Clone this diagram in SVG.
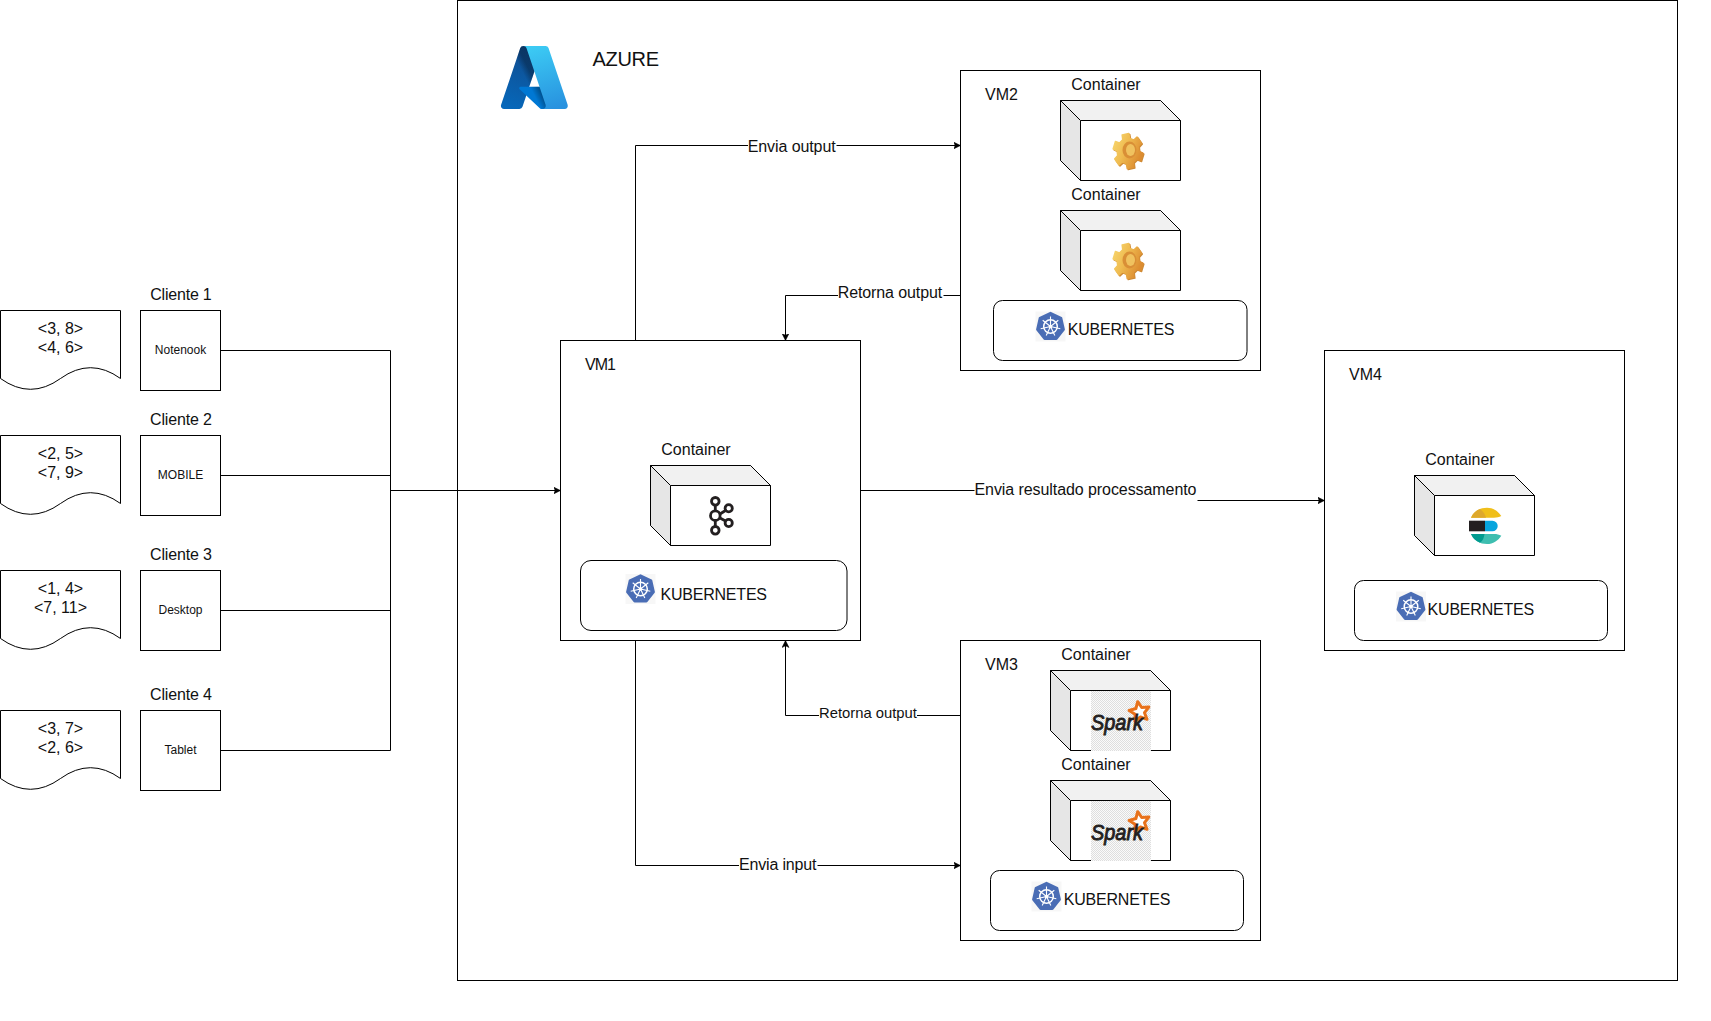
<svg xmlns="http://www.w3.org/2000/svg" xmlns:xlink="http://www.w3.org/1999/xlink" width="1711" height="1021" viewBox="0 0 1711 1021">
<style>
text{font-family:"Liberation Sans",Arial,sans-serif;font-size:16px;fill:#111}
.m{text-anchor:middle}
.s{font-size:12px}
.box{fill:#fff;stroke:#000;stroke-width:1}
.rr{fill:#fff;stroke:#000;stroke-width:1}
.line{fill:none;stroke:#000;stroke-width:1}
.arr{marker-end:url(#arrow)}
.bg{fill:#fff;stroke:none}
</style>
<defs>
<marker id="arrow" markerUnits="userSpaceOnUse" markerWidth="10" markerHeight="10" refX="7" refY="4" orient="auto">
<path d="M0,0.5 L7,4 L0,7.5 L1.75,4Z" fill="#000" stroke="#000" stroke-width="0.5"/>
</marker>
<g id="cube">
<path d="M0,0H100L120,20V80H20L0,60Z" fill="#fff" stroke="#000"/>
<path d="M0,0H100L120,20H20Z" fill="#f1f1f1" stroke="#000"/>
<path d="M0,0L20,20V80L0,60Z" fill="#e6e6e6" stroke="#000"/>
</g>
<g id="k8s">
<rect x="-15" y="-15" width="30" height="30" fill="#f7f7f7"/>
<polygon points="0,-13.5 10.6,-8.4 13.2,3 5.9,12.2 -5.9,12.2 -13.2,3 -10.6,-8.4" fill="#4a6db5" stroke="#4a6db5" stroke-width="2.4" stroke-linejoin="round"/>
<circle r="6.8" fill="none" stroke="#fff" stroke-width="1.5"/>
<path d="M0,0L0,-10M0,0L7.8,-6.2M0,0L9.8,2.2M0,0L4.3,9M0,0L-4.3,9M0,0L-9.8,2.2M0,0L-7.8,-6.2" stroke="#fff" stroke-width="1.1" fill="none"/>
<circle r="1.8" fill="#fff"/>
</g>
<linearGradient id="gearG" x1="0" y1="0" x2="1" y2="0.5">
<stop offset="0" stop-color="#f8d970"/><stop offset="0.5" stop-color="#efbb50"/><stop offset="1" stop-color="#dc8c30"/>
</linearGradient>
<path id="gearP" d="M14.9,2.1L12.6,9.5L8.6,8.1L5.3,11.3L5.9,16.1L-.8,17.5L-1.7,12.7L-5.7,11L-9,14L-13.4,7.9L-10.3,4.6L-11,-.2L-14.9,-2.1L-12.6,-9.5L-8.6,-8.1L-5.3,-11.3L-5.9,-16.1L.8,-17.5L1.7,-12.7L5.7,-11L9,-14L13.4,-7.9L10.3,-4.6L11,.2Z" stroke-width="1.4" stroke-linejoin="round"/>
<g id="gear">
<use href="#gearP" x="1" y="1" fill="#cf8a34" stroke="#cf8a34"/>
<use href="#gearP" fill="url(#gearG)" stroke="url(#gearG)"/>
<ellipse cx="1.5" cy="-1" rx="7" ry="8.5" fill="#d98f36"/>
<ellipse cx="2.5" cy="-1" rx="4.5" ry="6" fill="#f0c25f"/>
</g>
<pattern id="dither" width="2" height="2" patternUnits="userSpaceOnUse">
<rect width="2" height="2" fill="#fafafa"/>
<rect width="1" height="1" fill="#dedede"/>
<rect x="1" y="1" width="1" height="1" fill="#dedede"/>
</pattern>
<g id="spark">
<rect width="60" height="60" fill="url(#dither)"/>
<polygon transform="translate(48.5,21)" points="-1.8,-10.3 2.2,-4.5 9.3,-4.9 5,.7 7.5,7.3 .9,4.9 -4.6,9.4 -4.4,2.3 -10.4,-1.5 -3.6,-3.5" fill="#fff" stroke="#e8711a" stroke-width="3" stroke-linejoin="round"/>
<text x="0" y="39" font-style="italic" stroke="#231f20" stroke-width=".9" textLength="52" lengthAdjust="spacingAndGlyphs" style="font-size:22px;fill:#231f20">Spark</text>
</g>
<linearGradient id="azA" gradientUnits="userSpaceOnUse" x1="42" y1="6" x2="10" y2="90">
<stop offset="0" stop-color="#114a8b"/><stop offset="1" stop-color="#0669bc"/>
</linearGradient>
<linearGradient id="azB" gradientUnits="userSpaceOnUse" x1="48" y1="52" x2="40" y2="56">
<stop offset="0" stop-opacity=".3"/><stop offset="1" stop-opacity="0"/>
</linearGradient>
<linearGradient id="azC" gradientUnits="userSpaceOnUse" x1="50" y1="6" x2="75" y2="88">
<stop offset="0" stop-color="#3ccbf4"/><stop offset="1" stop-color="#2892df"/>
</linearGradient>
</defs>

<g id="azure-frame"><rect class="box" x="457.5" y="0.5" width="1220" height="980"/></g>

<g id="connectors">
<path class="line" d="M220.5,350.5H390.5V750.5H220.5"/>
<path class="line" d="M220.5,475.5H390.5"/>
<path class="line" d="M220.5,610.5H390.5"/>
<path class="line arr" d="M390.5,490.5H560.5"/>
<path class="line arr" d="M635.5,340.5V145.5H960.5"/>
<path class="line arr" d="M960.5,295.5H785.5V340.5"/>
<path class="line arr" d="M860.5,490.5H1092.5V500.5H1324.5"/>
<path class="line arr" d="M960.5,715.5H785.5V640.5"/>
<path class="line arr" d="M635.5,640.5V865.5H960.5"/>
<rect class="bg" x="748" y="136" width="88.5" height="19"/>
<text x="747.7" y="152" textLength="88">Envia output</text>
<rect class="bg" x="838" y="286" width="105.5" height="19"/>
<text x="837.7" y="298" textLength="104.5">Retorna output</text>
<rect class="bg" x="974.5" y="481" width="223" height="24"/>
<text x="974.5" y="495" textLength="222">Envia resultado processamento</text>
<rect class="bg" x="819" y="706" width="98" height="18"/>
<text x="819" y="718" style="font-size:14.8px">Retorna output</text>
<rect class="bg" x="739" y="856" width="78.5" height="19"/>
<text x="739" y="870" textLength="77.5">Envia input</text>
</g>

<g id="azure-logo" transform="translate(497.9,41) scale(.76)">
<path d="M33.338 6.544h26.038l-27.03 80.087a4.152 4.152 0 0 1-3.933 2.824H8.149a4.145 4.145 0 0 1-3.928-5.47L29.404 9.368a4.152 4.152 0 0 1 3.934-2.825z" fill="url(#azA)"/>
<path d="M71.175 60.261h-41.29a1.911 1.911 0 0 0-1.305 3.309l26.532 24.764a4.171 4.171 0 0 0 2.846 1.121h23.38z" fill="#0078d4"/>
<path d="M33.338 6.544a4.118 4.118 0 0 0-3.943 2.879L4.252 83.917a4.14 4.14 0 0 0 3.908 5.538h20.787a4.443 4.443 0 0 0 3.41-2.9l5.014-14.777 17.91 16.705a4.237 4.237 0 0 0 2.666.972H81.24L71.024 60.261l-29.781.007L59.47 6.544z" fill="url(#azB)"/>
<path d="M66.595 9.364a4.145 4.145 0 0 0-3.928-2.82H33.648a4.146 4.146 0 0 1 3.928 2.82l25.184 74.62a4.146 4.146 0 0 1-3.928 5.472h29.02a4.146 4.146 0 0 0 3.927-5.472z" fill="url(#azC)"/>
</g>
<g id="azure-label"><text x="592.5" y="66" textLength="66.5" style="font-size:20px">AZURE</text></g>

<g id="doc1"><path class="box" d="M.5,310.5H120.5V378.5Q90.5,356.9 60.5,378.5T.5,378.5Z"/><text class="m" x="60.5" y="333.5">&lt;3, 8&gt;</text><text class="m" x="60.5" y="352.5">&lt;4, 6&gt;</text></g>
<g id="doc2"><path class="box" d="M.5,435.5H120.5V503.5Q90.5,481.9 60.5,503.5T.5,503.5Z"/><text class="m" x="60.5" y="458.5">&lt;2, 5&gt;</text><text class="m" x="60.5" y="477.5">&lt;7, 9&gt;</text></g>
<g id="doc3"><path class="box" d="M.5,570.5H120.5V638.5Q90.5,616.9 60.5,638.5T.5,638.5Z"/><text class="m" x="60.5" y="593.5">&lt;1, 4&gt;</text><text class="m" x="60.5" y="612.5">&lt;7, 11&gt;</text></g>
<g id="doc4"><path class="box" d="M.5,710.5H120.5V778.5Q90.5,756.9 60.5,778.5T.5,778.5Z"/><text class="m" x="60.5" y="733.5">&lt;3, 7&gt;</text><text class="m" x="60.5" y="752.5">&lt;2, 6&gt;</text></g>

<g id="client1"><text class="m" x="181" y="300" textLength="61.5">Cliente 1</text><rect class="box" x="140.5" y="310.5" width="80" height="80"/><text class="m s" x="180.5" y="353.5">Notenook</text></g>
<g id="client2"><text class="m" x="181" y="425" textLength="62">Cliente 2</text><rect class="box" x="140.5" y="435.5" width="80" height="80"/><text class="m s" x="180.5" y="478.5">MOBILE</text></g>
<g id="client3"><text class="m" x="181" y="560" textLength="62">Cliente 3</text><rect class="box" x="140.5" y="570.5" width="80" height="80"/><text class="m s" x="180.5" y="613.5">Desktop</text></g>
<g id="client4"><text class="m" x="181" y="700" textLength="62">Cliente 4</text><rect class="box" x="140.5" y="710.5" width="80" height="80"/><text class="m s" x="180.5" y="753.5">Tablet</text></g>

<g id="vm1">
<rect class="box" x="560.5" y="340.5" width="300" height="300"/>
<text x="585" y="370" textLength="31">VM1</text>
<text class="m" x="696" y="454.5">Container</text>
<use href="#cube" x="650.5" y="465.5"/>
<g fill="none" stroke="#231f20" stroke-width="2.8">
<path d="M715.3,505V511M715.3,521V526.5M720,514L725.5,510.5M720,518L725.5,521"/>
<circle cx="715.3" cy="515.7" r="4.8"/><circle cx="715.3" cy="501.3" r="3.8"/><circle cx="715.3" cy="530.3" r="3.8"/><circle cx="728.7" cy="508.3" r="3.6"/><circle cx="728.7" cy="523" r="3.6"/>
</g>
<rect class="rr" x="580.5" y="560.5" width="266.5" height="70" rx="10.5"/>
<use href="#k8s" x="640.5" y="589"/>
<text x="660.5" y="600" textLength="106.5">KUBERNETES</text>
</g>

<g id="vm2">
<rect class="box" x="960.5" y="70.5" width="300" height="300"/>
<text x="985" y="100">VM2</text>
<text class="m" x="1106" y="90">Container</text>
<use href="#cube" x="1060.5" y="100.5"/>
<use href="#gear" x="1128" y="151"/>
<text class="m" x="1106" y="200">Container</text>
<use href="#cube" x="1060.5" y="210.5"/>
<use href="#gear" x="1128" y="261"/>
<rect class="rr" x="993.5" y="300.5" width="253.5" height="60" rx="9"/>
<use href="#k8s" x="1050.5" y="326.5"/>
<text x="1067.8" y="335" textLength="106.5">KUBERNETES</text>
</g>

<g id="vm3">
<rect class="box" x="960.5" y="640.5" width="300" height="300"/>
<text x="985" y="670">VM3</text>
<text class="m" x="1096" y="660">Container</text>
<use href="#cube" x="1050.5" y="670.5"/>
<use href="#spark" x="1091" y="691"/>
<text class="m" x="1096" y="770">Container</text>
<use href="#cube" x="1050.5" y="780.5"/>
<use href="#spark" x="1091" y="801"/>
<rect class="rr" x="990.5" y="870.5" width="253" height="60" rx="9"/>
<use href="#k8s" x="1046.5" y="896.5"/>
<text x="1063.8" y="905" textLength="106.5">KUBERNETES</text>
</g>

<g id="vm4">
<rect class="box" x="1324.5" y="350.5" width="300" height="300"/>
<text x="1349" y="380">VM4</text>
<text class="m" x="1460" y="464.5">Container</text>
<use href="#cube" x="1414.5" y="475.5"/>
<path d="M1471,517.7C1474,511 1480,507.7 1487,507.7C1493,507.7 1498,511 1501.3,516C1499,517.2 1497,517.7 1494,517.7Z" fill="#f0bf1a"/>
<path d="M1471,517.7C1473,513 1476,510.5 1480,509C1483,511 1485,514 1486,517.7Z" fill="#dea82c"/>
<path d="M1471,534C1474,540.7 1480,544 1487,544C1493,544 1498,540.7 1501.3,535.7C1499,534.5 1497,534 1494,534Z" fill="#3ebeb0"/>
<path d="M1471,534C1473,538.7 1476,541.2 1480,542.7C1483,540.7 1484,537.5 1484.5,534Z" fill="#019b8f"/>
<rect x="1469" y="520.7" width="16" height="10.6" fill="#231f20"/>
<path d="M1485,520.7H1492.4a5.3,5.3 0 0 1 0,10.6H1485Z" fill="#07a5de"/>
<rect class="rr" x="1354.5" y="580.5" width="253" height="60" rx="9"/>
<use href="#k8s" x="1411" y="606.5"/>
<text x="1427.6" y="615" textLength="106.5">KUBERNETES</text>
</g>
</svg>
